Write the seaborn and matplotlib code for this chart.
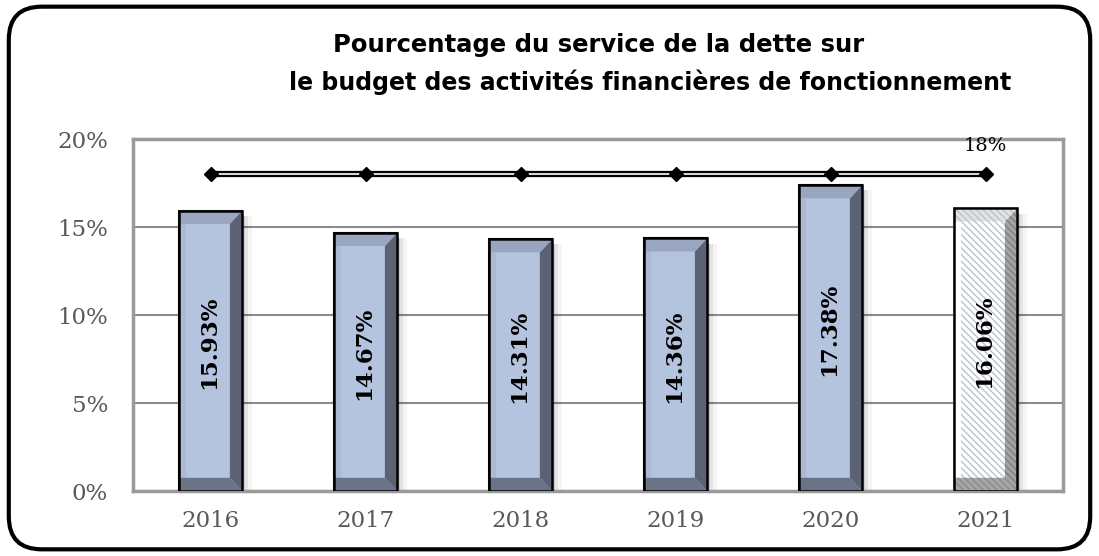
import matplotlib
matplotlib.use("Agg")
import matplotlib.pyplot as plt
import seaborn as sns
import pandas as pd
from matplotlib.patches import FancyBboxPatch, Polygon, Rectangle

# data
years = ["2016", "2017", "2018", "2019", "2020", "2021"]
ratios = [15.93, 14.67, 14.31, 14.36, 17.38, 16.06]
ceiling = [18, 18, 18, 18, 18, 18]
bar_labels = ["15.93%", "14.67%", "14.31%", "14.36%", "17.38%", "16.06%"]

df = pd.DataFrame({"year": years, "ratio": ratios})

sns.set_theme(style="white")
plt.rcParams["font.family"] = ["DejaVu Serif"]
plt.rcParams["hatch.linewidth"] = 1.0

fig = plt.figure(figsize=(10.99, 5.56), dpi=100)
ax = fig.add_axes([133 / 1099, 1 - 491 / 556, 930 / 1099, 352 / 556])

# rounded outer frame
frame = FancyBboxPatch((0.008, 0.012), 0.984, 0.976, boxstyle="round,pad=0,rounding_size=0.03",
                       transform=fig.transFigure, fill=False, lw=3, ec="black",
                       mutation_aspect=1099 / 556, zorder=0)
fig.patches.append(frame)

sns.barplot(data=df, x="year", y="ratio", color="#B4C3DE", width=0.41,
            edgecolor="black", linewidth=1.5, saturation=1, ax=ax, zorder=3)

bw = 0.08   # side bevel (x units)
bh = 0.75   # top/bottom bevel (y units)
for i, p in enumerate(list(ax.patches)):
    x0, w, h = p.get_x(), p.get_width(), p.get_height()
    x1 = x0 + w
    # soft shadow
    for k, a in enumerate([0.10, 0.07, 0.04]):
        ax.add_patch(Rectangle((x1, 0), 0.02 * (k + 1), h - 0.3, color="black",
                               alpha=a, lw=0, zorder=2))
    last = i == len(years) - 1
    if last:
        p.set_facecolor("white")
        p.set_hatch("\\\\\\\\\\")
        p.set_edgecolor("#BAC2D2")
        right_c, top_c, bot_c, left_c = "#A4A4A4", "#E2E2E2", "#A6A6A6", "white"
        hatch = "\\\\\\\\\\"
    else:
        right_c, top_c, bot_c, left_c = "#5B6274", "#9AA6BF", "#6B7386", "#ABB9D3"
        hatch = None
    ax.add_patch(Polygon([(x0, bh), (x0, h - bh), (x0 + 0.05, h - bh), (x0 + 0.05, bh)],
                         closed=True, fc=left_c, ec="none", zorder=4))
    ax.add_patch(Polygon([(x1, 0), (x1, h), (x1 - bw, h - bh), (x1 - bw, bh)],
                         closed=True, fc=right_c, ec="#7E7E7E" if last else "none",
                         lw=0, hatch=hatch, zorder=4))
    ax.add_patch(Polygon([(x0, h), (x1, h), (x1 - bw, h - bh), (x0, h - bh)],
                         closed=True, fc=top_c, ec="#BAC2D2" if last else "none",
                         lw=0, hatch=hatch, zorder=4))
    ax.add_patch(Polygon([(x0, 0), (x1, 0), (x1 - bw, bh), (x0, bh)],
                         closed=True, fc=bot_c, ec="#8A8A8A" if last else "none",
                         lw=0, hatch=hatch, zorder=4))
    ax.add_patch(Rectangle((x0, 0), w, h, fill=False, ec="black", lw=1.8, zorder=5))
    ax.text(x0 + w / 2 - 0.01, h / 2 + 0.5, bar_labels[i], rotation=90, ha="center",
            va="center", fontsize=16.5, fontweight="bold", color="black", zorder=6)

# 18% line (double stroke)
xs = list(range(len(years)))
ax.plot(xs, ceiling, color="black", lw=4.5, zorder=6)
ax.plot(xs, ceiling, color="white", lw=1.2, zorder=7)
ax.plot(xs, ceiling, ls="none", marker="D", ms=7, color="black", zorder=8)
ax.text(xs[-1], ceiling[-1] + 1.6, "18%", ha="center", va="center", fontsize=14,
        color="black")

ax.set_ylim(0, 20)
ax.set_xlim(-0.5, 5.5)
ax.set_yticks([0, 5, 10, 15, 20])
ax.set_yticklabels(["0%", "5%", "10%", "15%", "20%"])
ax.tick_params(axis="both", colors="#595959", labelsize=16.5, length=0)
ax.tick_params(axis="y", pad=18)
ax.tick_params(axis="x", pad=14)
ax.set_xlabel("")
ax.set_ylabel("")
ax.yaxis.grid(True, color="#8C8C8C", lw=1.5, zorder=1)
ax.set_axisbelow(True)
for s in ax.spines.values():
    s.set_color("#9A9A9A")
    s.set_linewidth(2.5)

fig.text(599 / 1099, 1 - 45 / 556, "Pourcentage du service de la dette sur",
         ha="center", va="center", fontsize=17.5, fontweight="heavy",
         color="black", family=["DejaVu Sans"])
fig.text(650 / 1099, 1 - 82 / 556, "le budget des activités financières de fonctionnement",
         ha="center", va="center", fontsize=17, fontweight="heavy",
         color="black", family=["DejaVu Sans"])

fig.savefig("out.png", dpi=100)
